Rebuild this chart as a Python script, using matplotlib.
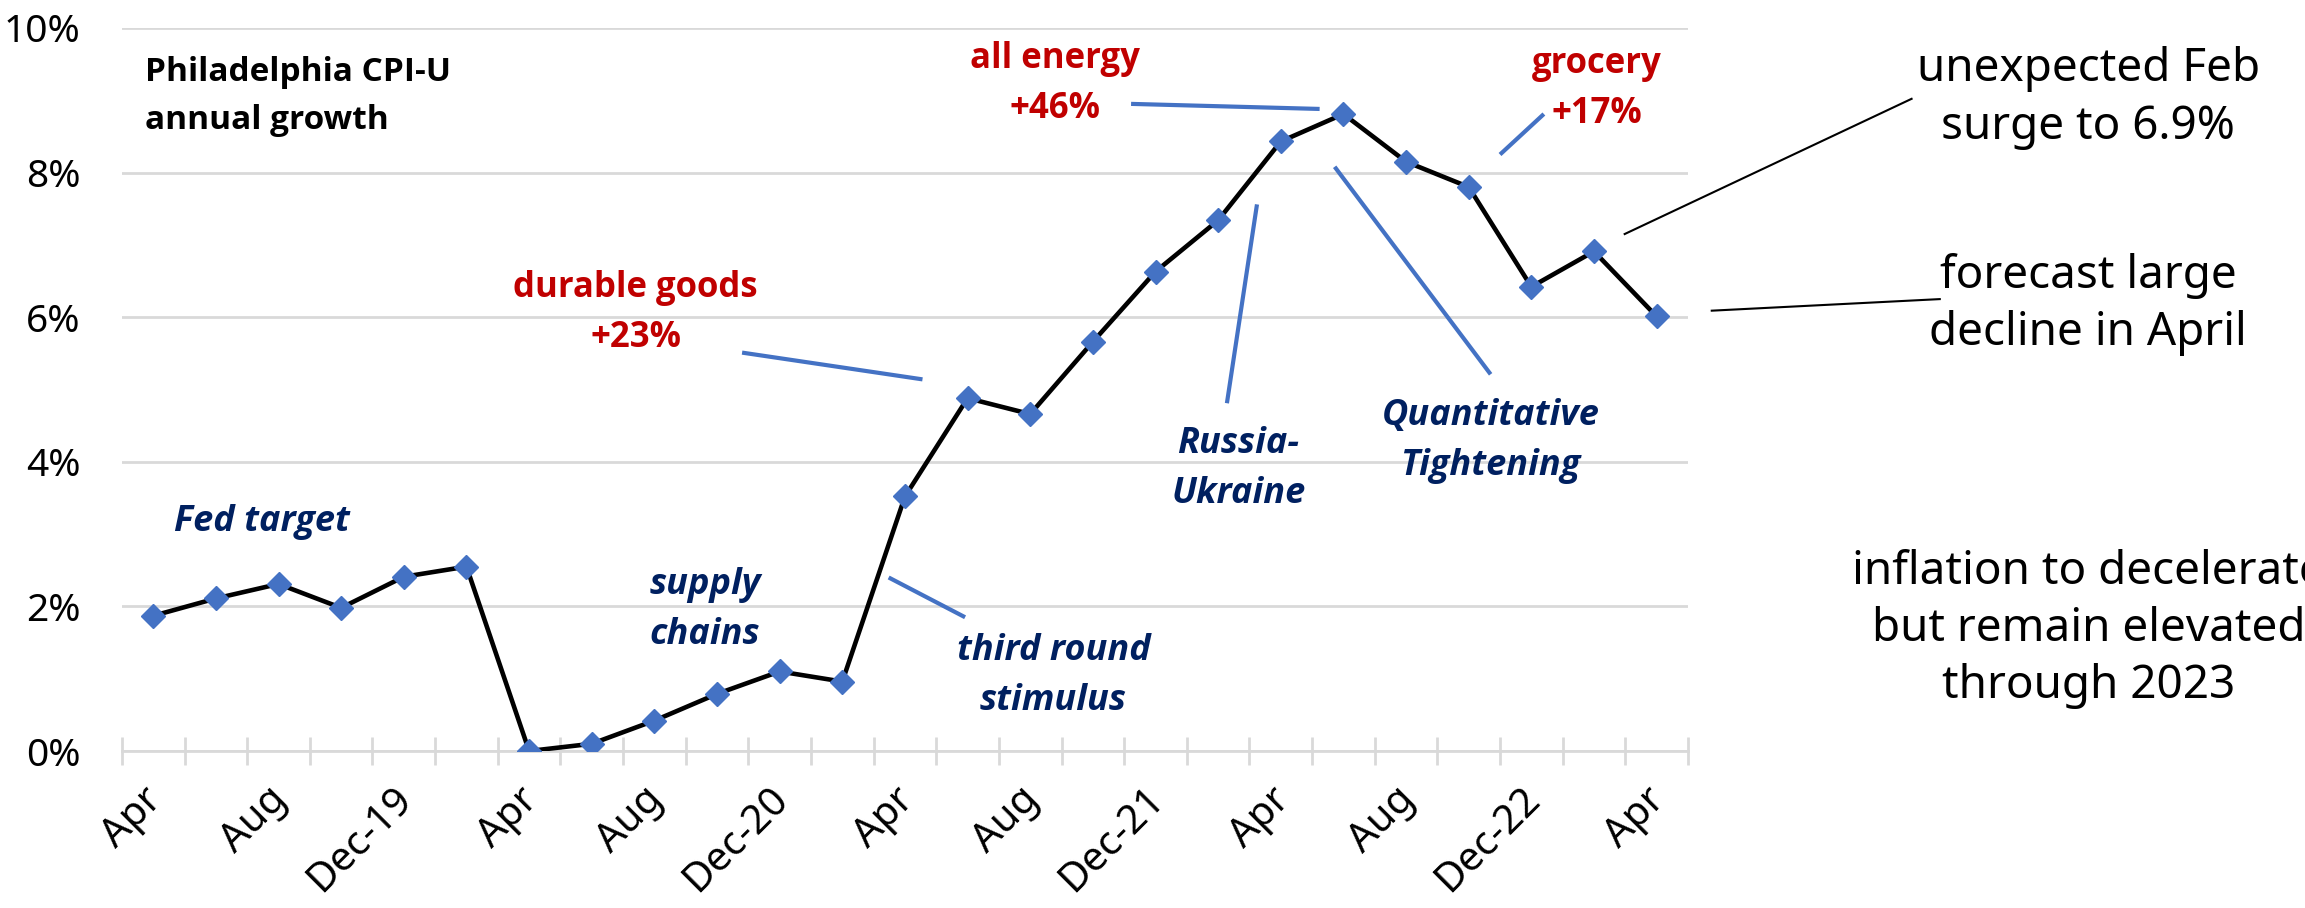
import numpy as np
import matplotlib
matplotlib.use("Agg")
import matplotlib.pyplot as plt
import matplotlib.transforms as mtransforms

# Philadelphia CPI-U, annual growth (%), every second month Apr-19 .. Apr-23
months = ["Apr-19", "Jun-19", "Aug-19", "Oct-19", "Dec-19", "Feb-20",
          "Apr-20", "Jun-20", "Aug-20", "Oct-20", "Dec-20", "Feb-21",
          "Apr-21", "Jun-21", "Aug-21", "Oct-21", "Dec-21", "Feb-22",
          "Apr-22", "Jun-22", "Aug-22", "Oct-22", "Dec-22", "Feb-23",
          "Apr-23"]
cpi = [1.87, 2.11, 2.31, 1.98, 2.41, 2.55,
       0.00, 0.10, 0.42, 0.79, 1.10, 0.96,
       3.52, 4.88, 4.66, 5.66, 6.63, 7.34,
       8.43, 8.81, 8.15, 7.80, 6.42, 6.91,
       6.01]
tick_labels = ["Apr", "Aug", "Dec-19", "Apr", "Aug", "Dec-20", "Apr",
               "Aug", "Dec-21", "Apr", "Aug", "Dec-22", "Apr"]
y_ticks = [0, 2, 4, 6, 8, 10]

RED = "#C00000"
NAVY = "#002060"
BLUE = "#4472C4"
GRID = "#D9D9D9"
bold_font = ["Open Sans", "DejaVu Sans"]
thin_font = ["Noto Sans", "DejaVu Sans"]

fig = plt.figure(figsize=(23.05, 9.08), dpi=100)
ax = fig.add_axes([0.0529, 0.1729, 0.6794, 0.7963])

x = np.arange(len(months))
ax.plot(x, cpi, color="black", linewidth=3.3, zorder=3)
ax.plot(x, cpi, linestyle="none", marker="D", markersize=12,
        color=BLUE, zorder=4)

ax.set_xlim(-0.5, len(months) - 0.5)
ax.set_ylim(0, 10)
for s in ["top", "right", "left", "bottom"]:
    ax.spines[s].set_visible(False)
ax.axhline(0, color=GRID, linewidth=2, zorder=1, clip_on=False)

ax.set_yticks(y_ticks)
ax.set_yticklabels([f"{v}%" for v in y_ticks], family=thin_font,
                   fontweight="light", fontsize=28)
ax.tick_params(axis="y", length=0, pad=30)
ax.grid(axis="y", color=GRID, linewidth=2, zorder=0)

ax.set_xticks(x[::2])
ax.set_xticklabels(tick_labels, rotation=45, ha="right", va="center",
                   rotation_mode="anchor", family=thin_font,
                   fontweight="light", fontsize=29)
ax.set_xticks(np.arange(-0.5, len(months)), minor=True)
ax.tick_params(axis="x", which="major", length=0, pad=31)
ax.tick_params(axis="x", which="minor", length=20, width=2,
               color=GRID, direction="inout")
shift = mtransforms.ScaledTranslation(0.03, 0, fig.dpi_scale_trans)
for lab in ax.get_xticklabels():
    lab.set_transform(lab.get_transform() + shift)

# title inside plot
ax.text(-0.13, 9.05, "Philadelphia CPI-U\nannual growth", ha="left",
        va="center", fontsize=24, fontweight="bold", family=bold_font,
        linespacing=1.58)

# red callouts
red_notes = [("durable goods\n+23%", 7.7, 6.06),
             ("all energy\n+46%", 14.4, 9.23),
             ("grocery\n+17%", 23.04, 9.15)]
for txt, tx, ty in red_notes:
    ax.text(tx, ty, txt, ha="center", va="center", color=RED,
            fontsize=25, fontweight="bold", family=bold_font,
            linespacing=1.52)

# navy callouts
navy_notes = [("Fed target", 1.73, 3.17),
              ("supply\nchains", 8.81, 1.95),
              ("third round\nstimulus", 14.37, 1.04),
              ("Russia-\nUkraine", 17.32, 3.9),
              ("Quantitative\nTightening", 21.35, 4.29)]
for txt, tx, ty in navy_notes:
    ax.text(tx, ty, txt, ha="center", va="center", color=NAVY,
            fontsize=26, fontweight="bold", style="italic",
            family=bold_font, linespacing=1.5)

# blue leader lines
blue_lines = [((9.40, 5.51), (12.28, 5.14)),
              ((15.61, 8.95), (18.62, 8.88)),
              ((21.50, 8.25), (22.20, 8.81)),
              ((17.62, 7.56), (17.14, 4.81)),
              ((18.86, 8.08), (21.35, 5.21)),
              ((11.74, 2.40), (12.96, 1.85))]
for (x0, y0), (x1, y1) in blue_lines:
    ax.plot([x0, x1], [y0, y1], color=BLUE, linewidth=3.0, zorder=2,
            solid_capstyle="butt")

# black leader lines to the right-hand notes
black_lines = [((23.49, 7.15), (28.07, 9.02)),
               ((24.88, 6.09), (28.52, 6.25))]
for (x0, y0), (x1, y1) in black_lines:
    ax.plot([x0, x1], [y0, y1], color="black", linewidth=1.5,
            clip_on=False, zorder=2)

side_kw = dict(ha="center", va="center", fontsize=33, family=thin_font,
               fontweight="light", linespacing=1.32)
fig.text(0.906, 0.892, "unexpected Feb\nsurge to 6.9%", **side_kw)
fig.text(0.906, 0.665, "forecast large\ndecline in April", **side_kw)
fig.text(0.906, 0.307,
         "inflation to decelerate\nbut remain elevated\nthrough 2023",
         **side_kw)

fig.savefig("out.png", dpi=100)
